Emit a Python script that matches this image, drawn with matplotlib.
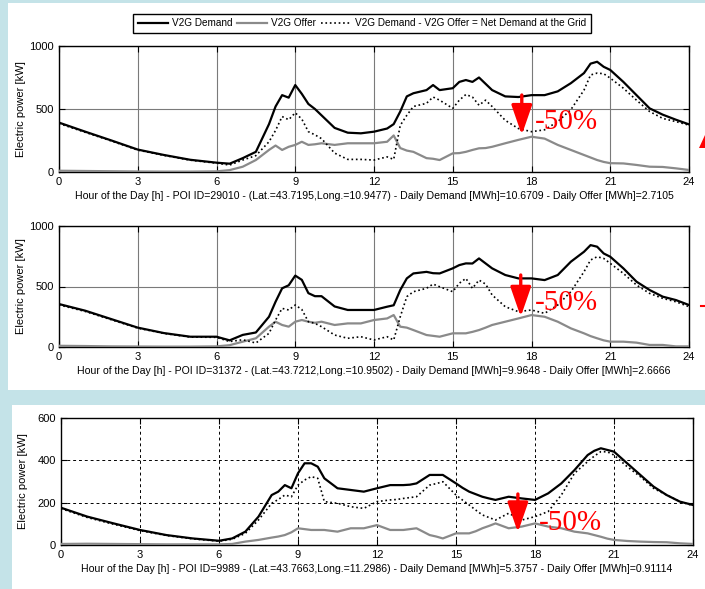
"""
V2G demand / offer / net demand at three POIs (three stacked MATLAB-style panels)
"""

import matplotlib
matplotlib.use("Agg")
import matplotlib.pyplot as plt
from matplotlib.patches import Rectangle, Polygon
from matplotlib.lines import Line2D

# hours of the day at which the curves were read
HOURS = [0, 1, 2, 3, 4, 5, 6, 6.5, 7, 7.5, 8, 8.25, 8.5, 8.75, 9, 9.25, 9.5, 9.75,
         10, 10.5, 11, 11.5, 12, 12.5, 12.75, 13, 13.25, 13.5, 14, 14.25, 14.5,
         15, 15.25, 15.5, 15.75, 16, 16.25, 16.5, 17, 17.5, 18, 18.5, 19, 19.5,
         20, 20.25, 20.5, 20.75, 21, 21.5, 22, 22.5, 23, 23.5, 24]

# POI 29010
DEMAND_1 = [392, 320, 250, 178, 135, 97, 74, 66, 110, 160, 380, 520, 610, 590, 690, 620, 540, 500,
            450, 350, 312, 307, 320, 345, 380, 480, 600, 625, 650, 690, 650,
            665, 715, 730, 715, 750, 700, 650, 600, 595, 610, 610, 640, 705,
            785, 860, 875, 835, 810, 715, 610, 505, 455, 415, 378]
OFFER_1 = [10, 8, 6, 4, 3, 3, 5, 15, 42, 95, 175, 210, 175, 200, 215, 240, 215, 220,
           228, 215, 228, 228, 228, 240, 290, 190, 170, 160, 110, 105, 95,
           148, 150, 160, 175, 188, 190, 200, 228, 255, 280, 265, 215, 175,
           135, 115, 95, 80, 70, 68, 56, 42, 40, 29, 16]
NET_1 = [385, 315, 246, 174, 132, 94, 70, 55, 95, 130, 240, 330, 440, 415, 470, 420, 320, 295,
         265, 150, 100, 100, 95, 120, 100, 370, 450, 520, 545, 595, 570,
         505, 570, 615, 595, 530, 570, 520, 410, 345, 320, 335, 400, 495,
         650, 770, 785, 780, 745, 665, 570, 480, 425, 400, 372]

# POI 31372
DEMAND_2 = [355, 300, 230, 160, 115, 85, 85, 55, 100, 120, 250, 374, 485, 510, 590, 555, 445, 420,
            420, 335, 306, 306, 306, 333, 345, 471, 567, 608, 621, 610, 608,
            650, 677, 691, 690, 732, 691, 650, 595, 567, 567, 553, 595, 705,
            787, 842, 829, 773, 746, 650, 540, 471, 416, 388, 347]
OFFER_2 = [10, 8, 5, 4, 3, 3, 5, 15, 44, 72, 168, 209, 182, 168, 209, 223, 209, 200,
           209, 182, 195, 195, 223, 236, 264, 168, 160, 140, 99, 92, 85,
           113, 113, 113, 125, 140, 160, 182, 209, 236, 264, 250, 209, 154,
           113, 90, 72, 55, 44, 44, 36, 17, 17, 5, 5]
NET_2 = [348, 294, 225, 156, 112, 82, 80, 45, 60, 33, 113, 223, 319, 306, 347, 310, 209, 195,
         168, 99, 72, 85, 58, 85, 58, 250, 416, 457, 485, 520, 498,
         457, 527, 567, 485, 553, 520, 430, 333, 292, 306, 278, 347, 457,
         622, 719, 746, 732, 691, 608, 512, 443, 402, 374, 333]

# POI 9989
DEMAND_3 = [176, 134, 102, 71, 47, 31, 20, 31, 63, 134, 236, 252, 283, 268, 339, 386, 386, 370,
            315, 268, 260, 252, 268, 283, 283, 283, 285, 291, 331, 331, 331,
            291, 270, 252, 240, 228, 220, 213, 228, 220, 213, 244, 291, 354,
            425, 445, 457, 449, 441, 386, 331, 276, 236, 205, 189]
OFFER_3 = [5, 6, 5, 4, 3, 3, 3, 5, 16, 24, 35, 40, 47, 60, 79, 75, 71, 71,
           71, 63, 79, 79, 94, 71, 71, 71, 75, 79, 47, 40, 31,
           55, 55, 55, 65, 79, 90, 102, 79, 87, 102, 87, 79, 63,
           55, 47, 39, 30, 24, 19, 16, 14, 13, 8, 5]
NET_3 = [172, 130, 98, 68, 45, 29, 18, 27, 55, 118, 197, 215, 236, 228, 283, 307, 323, 315,
         205, 197, 181, 173, 205, 213, 215, 220, 224, 228, 283, 290, 299,
         236, 212, 189, 165, 142, 130, 118, 150, 118, 134, 158, 236, 339,
         394, 420, 441, 440, 425, 370, 323, 268, 236, 205, 186]

XLABELS = [
    "Hour of the Day [h] - POI ID=29010 - (Lat.=43.7195,Long.=10.9477) - Daily Demand [MWh]=10.6709 - Daily Offer [MWh]=2.7105",
    "Hour of the Day [h] - POI ID=31372 - (Lat.=43.7212,Long.=10.9502) - Daily Demand [MWh]=9.9648 - Daily Offer [MWh]=2.6666",
    "Hour of the Day [h] - POI ID=9989 - (Lat.=43.7663,Long.=11.2986) - Daily Demand [MWh]=5.3757 - Daily Offer [MWh]=0.91114",
]
YMAX = [1000, 1000, 600]
YTICKS = [[0, 500, 1000], [0, 500, 1000], [0, 200, 400, 600]]
# (arrow hour, arrow top, arrow tip, label y) for the "-50%" annotation
ARROWS = [(17.63, 611, 294, 400), (17.59, 595, 250, 361), (17.35, 241, 60, 102)]

W, H = 705, 589
BLUE = "#c4e3e8"
GRAY = "#8a8a8a"

plt.rcParams["font.family"] = ["Liberation Sans", "DejaVu Sans"]

fig = plt.figure(figsize=(W / 100, H / 100), dpi=100, facecolor=BLUE)


def px_rect(x0, y0, x1, y1):
    """figure fraction rect from pixel box measured from the top-left"""
    return [x0 / W, 1 - y1 / H, (x1 - x0) / W, (y1 - y0) / H]


# white slide panels on the blue background
for x0, y0, x1, y1 in [(8, 3, 705, 390), (12, 405, 705, 589)]:
    l, b, w, h = px_rect(x0, y0, x1, y1)
    fig.patches.append(Rectangle((l, b), w, h, transform=fig.transFigure,
                                 facecolor="white", edgecolor="none", zorder=-10))

# clipped red marks at the right edge of the top panel
fig.patches.append(Polygon([(699 / W, 1 - 148 / H), (705 / W, 1 - 135 / H), (705 / W, 1 - 148 / H)],
                           closed=True, transform=fig.transFigure, facecolor="red", edgecolor="none",
                           zorder=-5))
fig.lines.append(Line2D([701 / W, 705 / W], [1 - 306 / H, 1 - 306 / H], transform=fig.transFigure,
                        color="red", lw=1.5, zorder=-5))

boxes = [(59, 46, 689, 172), (59, 226, 689, 347), (61, 418, 693, 545)]
series = [(DEMAND_1, OFFER_1, NET_1), (DEMAND_2, OFFER_2, NET_2), (DEMAND_3, OFFER_3, NET_3)]

for i, (box, (dem, off, net)) in enumerate(zip(boxes, series)):
    ax = fig.add_axes(px_rect(*box))
    ax.set_facecolor("white")
    ax.plot(HOURS, off, color=GRAY, lw=1.6, zorder=3)
    ax.plot(HOURS, net, color="black", lw=1.2, ls=":", zorder=4)
    ax.plot(HOURS, dem, color="black", lw=1.6, zorder=5)

    ax.set_xlim(0, 24)
    ax.set_ylim(0, YMAX[i])
    ax.set_xticks(range(0, 25, 3))
    ax.set_yticks(YTICKS[i])
    ax.tick_params(direction="in", top=True, right=True, length=4, width=0.8,
                   labelsize=8, pad=3.5)
    for s in ax.spines.values():
        s.set_linewidth(1.0)
    if i < 2:
        ax.grid(True, color="#7a7a7a", lw=0.8, ls="-")
    else:
        ax.grid(True, color="black", lw=0.7, ls=(0, (3, 3)))
    ax.set_axisbelow(True)

    ax.set_xlabel(XLABELS[i], fontsize=7.6, labelpad=3)
    ax.set_ylabel("Electric power [kW]", fontsize=8)
    ax.yaxis.set_label_coords(-0.052, 0.5)

    hx, top, tip, ly = ARROWS[i]
    ax.annotate("", xy=(hx, tip), xytext=(hx, top),
                arrowprops=dict(arrowstyle="-|>,head_length=1.3,head_width=0.45",
                                color="red", lw=2.4, mutation_scale=14, shrinkA=0, shrinkB=0),
                zorder=6)
    ax.text(18.13, ly, "-50%", color="red", fontsize=21, family="Liberation Serif",
            va="center", ha="left", zorder=6)

    if i == 0:
        handles = [Line2D([], [], color="black", lw=1.6),
                   Line2D([], [], color=GRAY, lw=1.6),
                   Line2D([], [], color="black", lw=1.2, ls=":")]
        labels = ["V2G Demand", "V2G Offer", "V2G Demand - V2G Offer = Net Demand at the Grid"]
        leg = fig.legend(handles, labels, loc="center", bbox_to_anchor=(362 / W, 1 - 23 / H),
                         ncol=3, fontsize=7.2, frameon=True, fancybox=False, framealpha=1,
                         edgecolor="black", handlelength=3.0, columnspacing=0.5,
                         handletextpad=0.4, borderpad=0.45, borderaxespad=0)
        leg.get_frame().set_linewidth(1.0)

fig.savefig("out.png", dpi=100, facecolor=BLUE)
